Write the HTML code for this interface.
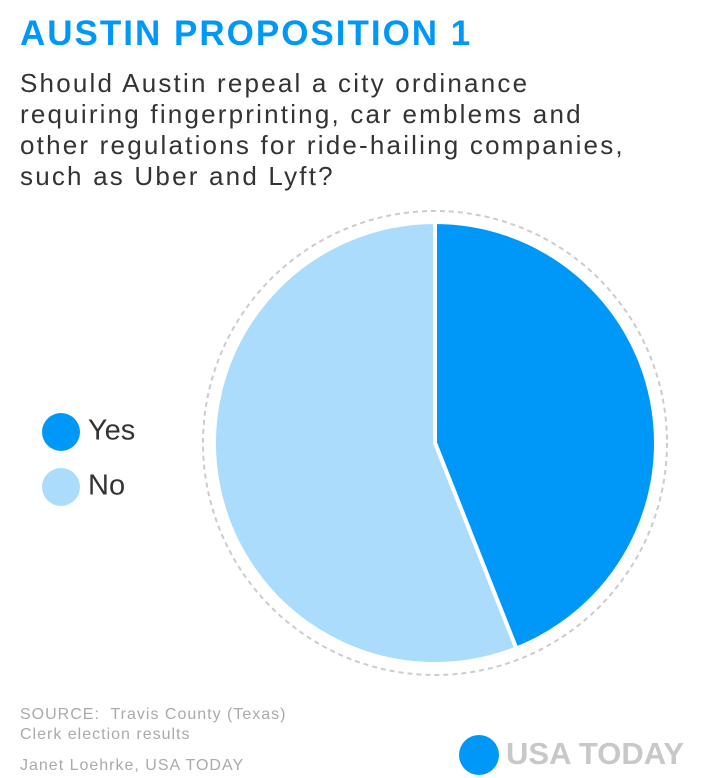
<!DOCTYPE html>
<html><head><meta charset="utf-8"><style>
body{margin:0;width:704px;height:778px;background:#fff;font-family:"Liberation Sans",sans-serif;position:relative;overflow:hidden}
.t{position:absolute;left:20px;top:14px;font-size:35px;font-weight:bold;color:#0098f8;letter-spacing:2px}
.q{position:absolute;left:20px;top:68px;font-size:26px;line-height:31px;color:#333;letter-spacing:2.2px;white-space:nowrap}
.leg{position:absolute;left:42px;font-size:29px;color:#333}
.leg span{display:inline-block;width:38px;height:38px;border-radius:50%;vertical-align:middle;margin-right:8px}
.src{position:absolute;left:20px;font-size:16px;color:#aaa;letter-spacing:1px}
</style></head><body>
<div class="t">AUSTIN PROPOSITION 1</div>
<div class="q">Should Austin repeal a city ordinance<br>requiring fingerprinting, car emblems and<br>other regulations for ride-hailing companies,<br>such as Uber and Lyft?</div>
<div class="leg" style="top:413px"><span style="background:#0098f8"></span>Yes</div>
<div class="leg" style="top:468px"><span style="background:#abdcfc"></span>No</div>
<svg id="pie" width="704" height="778" style="position:absolute;left:0;top:0">
<circle cx="435" cy="443" r="232" fill="none" stroke="#ccc" stroke-width="2" stroke-dasharray="5,4"/>
</svg>
<div class="src" style="top:705px;line-height:20px">SOURCE:&nbsp; Travis County (Texas)<br>Clerk election results</div>
<div class="src" style="top:757px">Janet Loehrke, USA TODAY</div>
<div style="position:absolute;left:459px;top:735px;width:40px;height:40px;border-radius:50%;background:#0098f8"></div>
<div style="position:absolute;left:506px;top:736px;font-size:31px;font-weight:bold;color:#c8c8c8;letter-spacing:0px">USA TODAY</div>
<script>
const categories=["Yes","No"];
const values=[44,56];
const colors=["#0098f8","#abdcfc"];
const svg=document.getElementById('pie');
const cx=435,cy=443,r=221;
const total=values.reduce((a,b)=>a+b,0);
let a0=0;
values.forEach((v,i)=>{
  const a1=a0+v/total*2*Math.PI;
  const p=(a)=>[cx+r*Math.sin(a),cy-r*Math.cos(a)];
  const [x0,y0]=p(a0),[x1,y1]=p(a1);
  const path=document.createElementNS('http://www.w3.org/2000/svg','path');
  path.setAttribute('d',`M${cx},${cy}L${x0},${y0}A${r},${r} 0 ${a1-a0>Math.PI?1:0} 1 ${x1},${y1}Z`);
  path.setAttribute('fill',colors[i]);
  path.setAttribute('stroke','#fff');
  path.setAttribute('stroke-width','4');
  
  
  svg.appendChild(path);
  a0=a1;
});
</script>
</body></html>
